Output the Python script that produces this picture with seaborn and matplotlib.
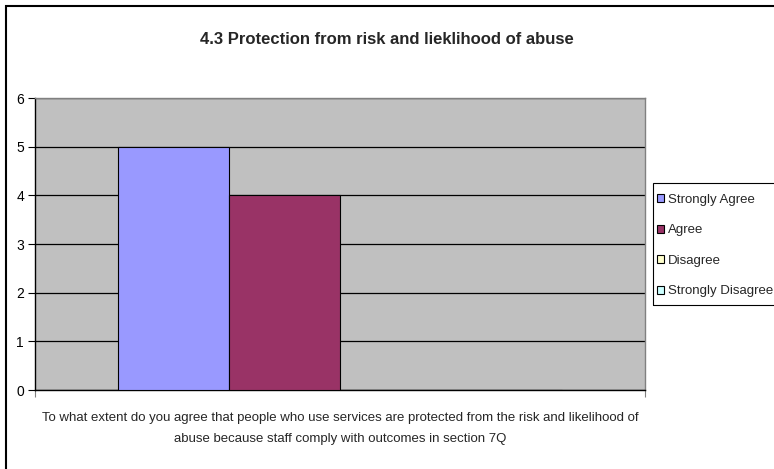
import matplotlib
matplotlib.use("Agg")
import matplotlib.pyplot as plt
import seaborn as sns
import pandas as pd
from matplotlib.patches import Rectangle

title = "4.3 Protection from risk and lieklihood of abuse"
category = ["To what extent do you agree that people who use services are protected from the risk and likelihood of\nabuse because staff comply with outcomes in section 7Q"]
series = ["Strongly Agree", "Agree", "Disagree", "Strongly Disagree"]
values = [5, 4, 0, 0]
colors = ["#9999FF", "#993366", "#FFFFCC", "#CCFFFF"]
yticks = [0, 1, 2, 3, 4, 5, 6]

df = pd.DataFrame({"cat": category * len(series), "series": series, "value": values})

sns.set_style("white")
plt.rcParams["font.family"] = ["Liberation Sans", "DejaVu Sans"]

fig = plt.figure(figsize=(7.74, 4.69), dpi=100)
ax = fig.add_axes([35/774, 79/469, 610/774, 292/469])
ax.set_facecolor("#C0C0C0")

sns.barplot(data=df, x="cat", y="value", hue="series", palette=colors,
            hue_order=series, width=0.728, edgecolor="black", linewidth=0.8,
            saturation=1, ax=ax, zorder=3)

ax.set_ylim(0, 6)
ax.set_xlim(-0.5, 0.5)
ax.set_yticks(yticks)
ax.set_yticklabels([str(t) for t in yticks], fontsize=10)
ax.yaxis.grid(True, color="black", linewidth=0.9, zorder=1)
ax.set_axisbelow(True)
ax.set_xticks([-0.5, 0.5])
ax.set_xticklabels(["", ""])
ax.tick_params(axis="both", direction="out", length=5, width=0.8, colors="black",
               pad=3, left=True, bottom=True)
ax.tick_params(axis="x", colors="#808080")
ax.set_xlabel("")
ax.set_ylabel("")
lines = category[0].split("\n")
fig.text(340/774, (469-418)/469, lines[0], ha="center", va="center", fontsize=9.5)
fig.text(340/774, (469-439)/469, lines[1], ha="center", va="center", fontsize=9.5)

for s in ["left", "bottom"]:
    ax.spines[s].set_color("black")
    ax.spines[s].set_linewidth(1.0)
for s in ["top", "right"]:
    ax.spines[s].set_color("#808080")
    ax.spines[s].set_linewidth(1.0)

leg = ax.legend(loc="upper left", bbox_to_anchor=(653/774, (469-190)/469),
                bbox_transform=fig.transFigure, fontsize=9.5, frameon=False,
                handlelength=0.55, handleheight=0.55, handletextpad=0.25,
                labelspacing=1.4, borderpad=0.3, borderaxespad=0)
for h in leg.legend_handles:
    h.set_edgecolor("black")
    h.set_linewidth(0.8)

# legend frame
fig.patches.append(Rectangle((653/774, (469-305)/469), 0.3, 122/469,
                             transform=fig.transFigure, fill=False,
                             edgecolor="black", linewidth=0.8))

fig.text(0.5, (469-40)/469, title, ha="center", va="center", fontsize=12,
         fontweight="bold")

fig.patches.append(Rectangle((6/774, -0.05), 1.1, 1 - 6/469 + 0.05,
                             transform=fig.transFigure, fill=False,
                             edgecolor="black", linewidth=1.5))

fig.savefig("out.png", dpi=100)
